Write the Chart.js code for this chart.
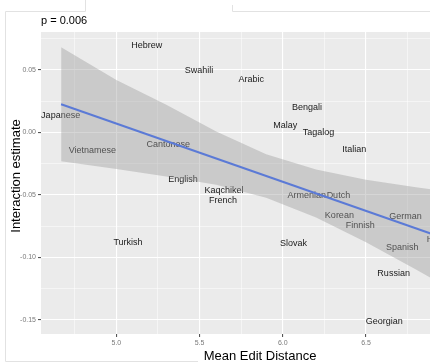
<!DOCTYPE html>
<html>
<head>
<meta charset="utf-8">
<script src="https://cdn.jsdelivr.net/npm/chart.js@4/dist/chart.umd.min.js"></script>
<style>
  html, body { margin: 0; padding: 0; background: #fff; overflow: hidden; }
  #wrap { position: relative; width: 480px; height: 364px; }
  canvas { display: block; }
</style>
</head>
<body>
<div id="wrap"><canvas id="edit-distance-chart" width="480" height="364"></canvas></div>
<script>
// language labels placed at (mean edit distance, interaction estimate)
const languages = ["Hebrew", "Swahili", "Arabic", "Bengali", "Malay", "Tagalog", "Italian",
  "Japanese", "Vietnamese", "Cantonese", "English", "Kaqchikel", "French", "Armenian", "Dutch",
  "Korean", "Finnish", "German", "Spanish", "Hindi", "Turkish", "Slovak", "Russian", "Georgian"];
const editDistance = [5.183, 5.496, 5.811, 6.146, 6.015, 6.214, 6.430,
  4.665, 4.856, 5.312, 5.400, 5.647, 5.641, 6.144, 6.334,
  6.340, 6.466, 6.738, 6.718, 6.927, 5.070, 6.064, 6.666, 6.609];
const interaction = [0.0696, 0.0498, 0.0421, 0.0202, 0.0056, -0.0003, -0.0134,
  0.0136, -0.0142, -0.0099, -0.0376, -0.0462, -0.0547, -0.0504, -0.0504,
  -0.0667, -0.0747, -0.0670, -0.0920, -0.0856, -0.0878, -0.0888, -0.1128, -0.1515];

// linear fit and its confidence band
const fitX = [4.668, 7.0];
const fitY = [0.0226, -0.0860];
const bandX = [4.668, 5.0, 5.3, 5.6, 5.9, 6.2, 6.5, 6.8, 7.0];
const bandUpper = [0.0682, 0.0420, 0.0222, 0.0008, -0.0174, -0.0296, -0.0378, -0.0438, -0.0474];
const bandLower = [-0.0230, -0.0292, -0.0352, -0.0418, -0.0522, -0.0680, -0.0878, -0.1096, -0.1246];

// axis ticks
const xTicks = [5.0, 5.5, 6.0, 6.5, 7.0];
const xMinor = [4.75, 5.25, 5.75, 6.25, 6.75];
const yTicks = [-0.15, -0.10, -0.05, 0.00, 0.05];
const yMinor = [-0.125, -0.075, -0.025, 0.025, 0.075];

const FONT = "'Liberation Sans', Arial, Helvetica, sans-serif";

function toPoints(xs, ys) {
  return xs.map((x, i) => ({ x: x, y: ys[i] }));
}

function setTicks(major, minor) {
  return (scale) => {
    let all = major.map(v => ({ value: v, minor: false }))
      .concat(minor.map(v => ({ value: v, minor: true })));
    all.sort((a, b) => a.value - b.value);
    scale.ticks = all;
  };
}

// grey panel behind the grid, like ggplot
const panelPlugin = {
  id: "panel",
  beforeDraw(chart) {
    let { ctx, chartArea: a } = chart;
    ctx.save();
    ctx.fillStyle = "#EBEBEB";
    ctx.fillRect(a.left, a.top, a.right - a.left, a.bottom - a.top);
    ctx.restore();
  },
};

// text labels go under the band, so the band greys them out
const labelPlugin = {
  id: "langLabels",
  beforeDatasetsDraw(chart) {
    let ctx = chart.ctx;
    let xs = chart.scales.x, ys = chart.scales.y;
    ctx.save();
    ctx.font = "9px " + FONT;
    ctx.fillStyle = "#1a1a1a";
    ctx.textAlign = "center";
    ctx.textBaseline = "middle";
    languages.forEach((name, i) => {
      ctx.fillText(name, xs.getPixelForValue(editDistance[i]), ys.getPixelForValue(interaction[i]));
    });
    ctx.restore();
  },
};

// p-value, axis titles and the faint frame lines from the screenshot
const textPlugin = {
  id: "titles",
  afterDraw(chart) {
    let { ctx, chartArea: a } = chart;
    ctx.save();
    ctx.fillStyle = "#000";
    ctx.font = "11px " + FONT;
    ctx.textAlign = "left";
    ctx.textBaseline = "middle";
    ctx.fillText("p = 0.006", a.left, 21);

    ctx.font = "13px " + FONT;
    ctx.textAlign = "center";
    ctx.fillText("Mean Edit Distance", (a.left + a.right) / 2, 356);

    ctx.translate(16, 176);
    ctx.rotate(-Math.PI / 2);
    ctx.fillText("Interaction estimate", 0, 0);
    ctx.restore();

    ctx.save();
    ctx.strokeStyle = "#e2e2e2";
    ctx.lineWidth = 1;
    ctx.beginPath();
    ctx.moveTo(85.5, 0); ctx.lineTo(85.5, 11.5); ctx.lineTo(5.5, 11.5); ctx.lineTo(5.5, 361.5); ctx.lineTo(198, 361.5);
    ctx.moveTo(232.5, 5); ctx.lineTo(232.5, 11.5); ctx.lineTo(480, 11.5);
    ctx.stroke();
    ctx.restore();
  },
};

let ctx = document.getElementById("edit-distance-chart").getContext("2d");

let data = {
  datasets: [
    {
      label: "upper",
      data: toPoints(bandX, bandUpper),
      borderWidth: 0,
      pointRadius: 0,
      fill: "+1",
      backgroundColor: "rgba(153,153,153,0.4)",
    },
    {
      label: "lower",
      data: toPoints(bandX, bandLower),
      borderWidth: 0,
      pointRadius: 0,
      fill: false,
    },
    {
      label: "fit",
      data: toPoints(fitX, fitY),
      borderColor: "#3366FF",
      borderWidth: 2,
      pointRadius: 0,
      fill: false,
    },
  ],
};

let options = {
  responsive: false,
  animation: false,
  layout: { padding: { left: 0, right: 1, top: 32, bottom: 0 } },
  plugins: {
    legend: { display: false },
    title: { display: false },
    tooltip: { enabled: false },
  },
  scales: {
    x: {
      type: "linear",
      min: 4.547,
      max: 7.179,
      afterBuildTicks: setTicks(xTicks, xMinor),
      afterFit: (scale) => { scale.height = 30; },
      border: { display: false },
      grid: {
        color: "#ffffff",
        lineWidth: (c) => (c.tick && c.tick.minor ? 0.5 : 1.1),
        tickColor: (c) => (c.tick && c.tick.minor ? "rgba(0,0,0,0)" : "#555"),
        tickLength: 3,
      },
      ticks: {
        autoSkip: false,
        maxRotation: 0,
        padding: 2,
        color: "#7a7a7a",
        font: { family: FONT, size: 7 },
        callback: (v, i, ticks) => (ticks[i].minor ? "" : v.toFixed(1)),
      },
    },
    y: {
      type: "linear",
      min: -0.1612,
      max: 0.0804,
      afterBuildTicks: setTicks(yTicks, yMinor),
      afterFit: (scale) => { scale.width = 41; },
      border: { display: false },
      grid: {
        color: "#ffffff",
        lineWidth: (c) => (c.tick && c.tick.minor ? 0.5 : 1.1),
        tickColor: (c) => (c.tick && c.tick.minor ? "rgba(0,0,0,0)" : "#555"),
        tickLength: 3,
      },
      ticks: {
        autoSkip: false,
        padding: 2,
        color: "#7a7a7a",
        font: { family: FONT, size: 7 },
        callback: (v, i, ticks) => (ticks[i].minor ? "" : v.toFixed(2)),
      },
    },
  },
};

let chart = new Chart(ctx, {
  type: "line",
  data: data,
  options: options,
  plugins: [panelPlugin, labelPlugin, textPlugin],
});
</script>
</body>
</html>
